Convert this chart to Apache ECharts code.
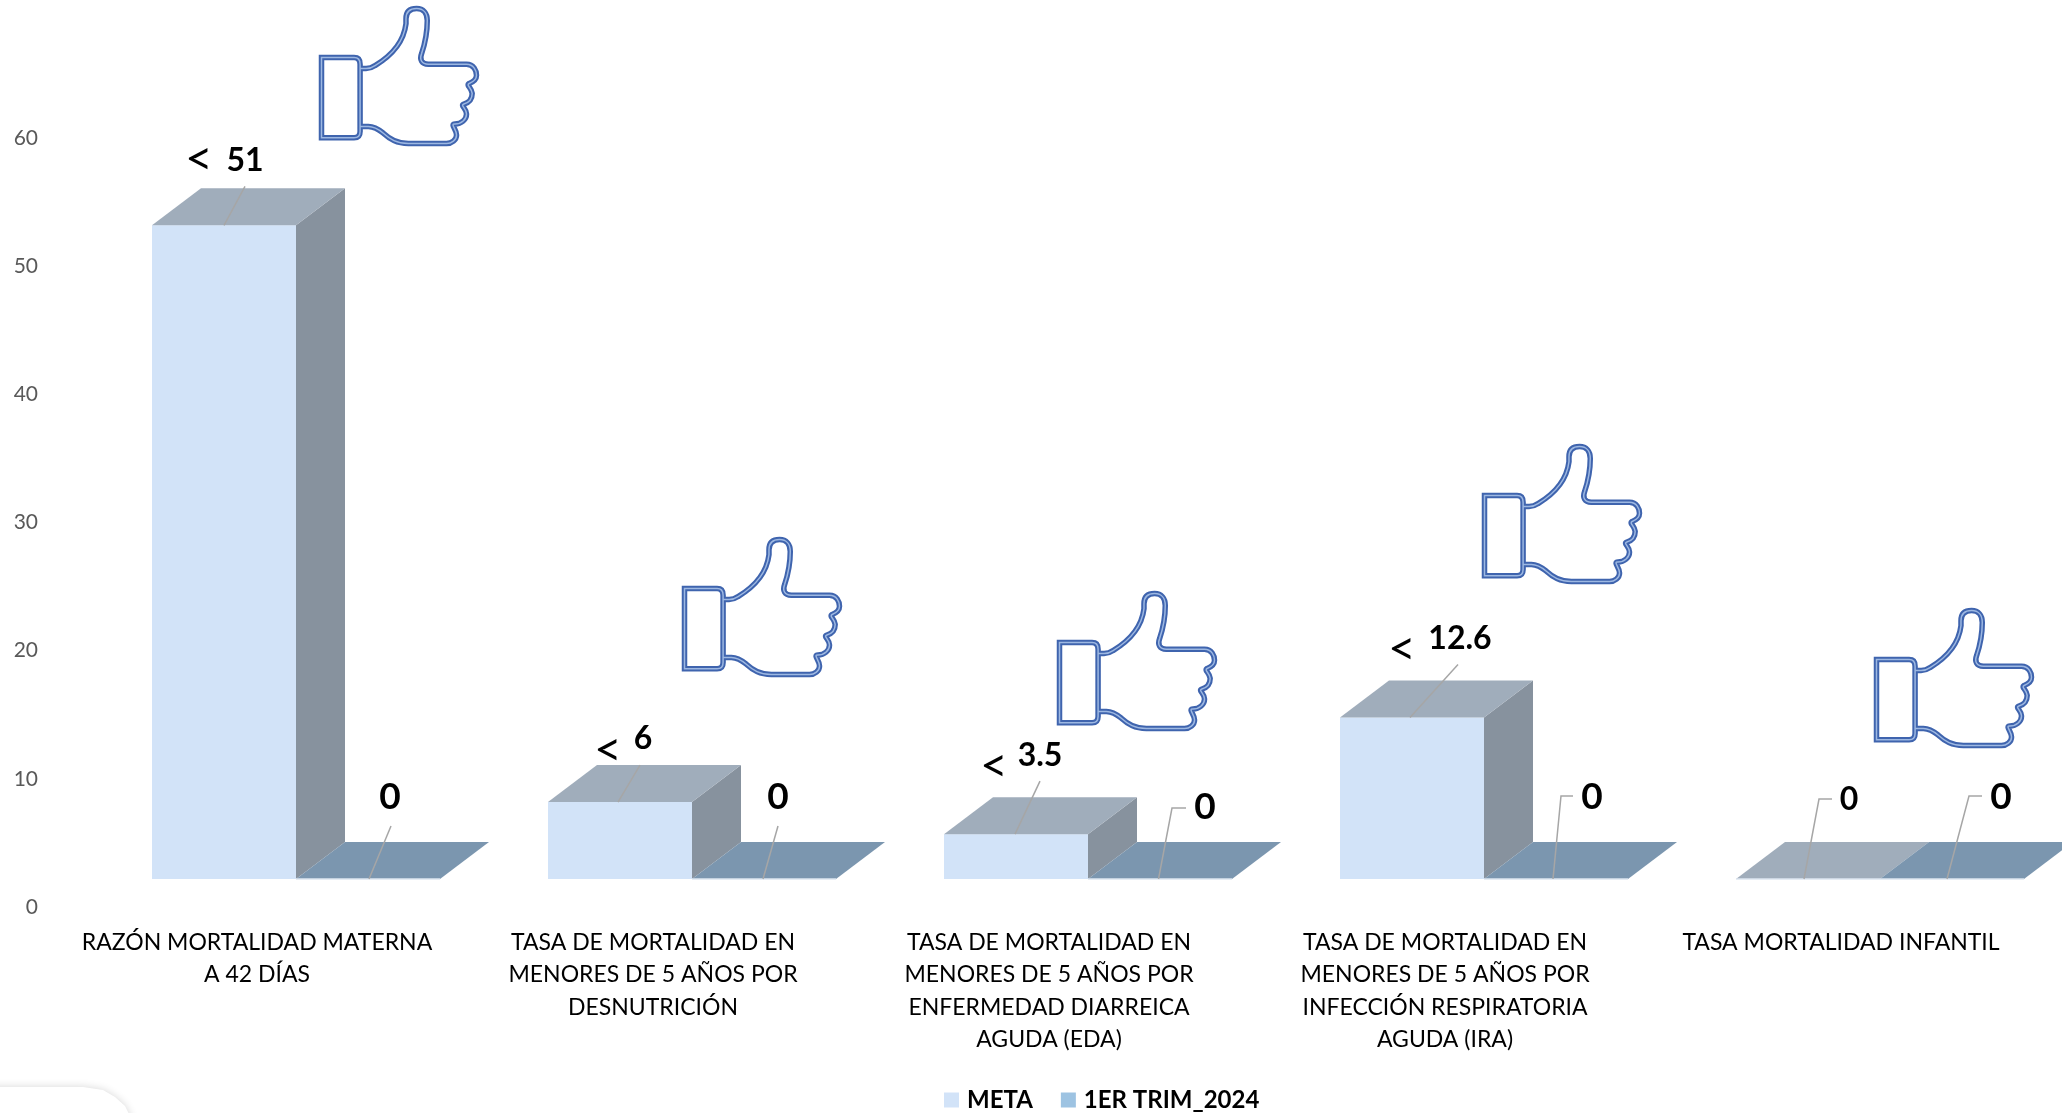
<!DOCTYPE html>
<html><head><meta charset="utf-8">
<style>html,body{margin:0;padding:0;background:#fff}#c{width:2062px;height:1113px}</style>
<script src="https://cdn.jsdelivr.net/npm/echarts@6/dist/echarts.min.js"></script>
</head><body><div id="c"></div>
<script>
const categories = [
  'RAZÓN MORTALIDAD MATERNA\nA 42 DÍAS',
  'TASA DE MORTALIDAD EN\nMENORES DE 5 AÑOS POR\nDESNUTRICIÓN',
  'TASA DE MORTALIDAD EN\nMENORES DE 5 AÑOS POR\nENFERMEDAD DIARREICA\nAGUDA (EDA)',
  'TASA DE MORTALIDAD EN\nMENORES DE 5 AÑOS POR\nINFECCIÓN RESPIRATORIA\nAGUDA (IRA)',
  'TASA MORTALIDAD INFANTIL'
];
const metaValues = [51, 6, 3.5, 12.6, 0];
const trimValues = [0, 0, 0, 0, 0];
const metaPrefix = ['<', '<', '<', '<', ''];

// layout of the hand-placed labels and leader lines (pixel offsets from the bar's top-front midpoint)
const metaLeader = [[[0,0],[21,-39]], [[-2,0],[20,-37]], [[-1,0],[24,-53]], [[-2,0],[46,-53]], [[-4,0],[11,-80],[24,-80]]];
const metaLabel  = [[21,-65,32], [23,-63,32], [24,-78,32], [48,-79,32], [41,-79,32]];
const metaPrefixAt = [[-25,-66], [-12,-52], [-22,-68], [-10,-68], null];
const trimLeader = [[[1,0],[23,-53]], [[-1,0],[14,-53]], [[-1.5,0],[12,-71],[26,-71]], [[-3,0],[5,-83],[17,-83]], [[-5,0],[17,-83],[30,-83]]];
const trimLabel  = [[22,-82,37], [14,-82,37], [45,-72,37], [36,-82,37], [49,-82,37]];
const thumbBoxes = [[319,6], [682,537], [1057,591], [1482,444], [1874,608]];

const FONT = 'Lato, Carlito, "Noto Sans", sans-serif';
const BAR_W_RATIO = 144 / 396, DEPTH_X = 49, DEPTH_Y = 37, FLOOR_UP = 28, SHIFT = 39;

const thumbCuff = 'M964,172 L1062,172 Q1080,172 1080,192 L1080,395 Q1080,414 1062,414 L964,414 Z ';
const thumbHand = 'M1082,205 L1098,205 Q1112,205 1125,196 C1165,172 1210,135 1218,70 L1218,55 C1218,32 1232,24 1250,24 C1270,24 1282,38 1282,60 C1282,100 1275,130 1265,160 C1258,178 1265,192 1285,192 L1400,192 C1422,192 1430,212 1430,225 C1430,238 1420,245 1408,250 C1398,256 1415,262 1417,280 C1417,298 1405,308 1392,312 C1380,316 1400,325 1400,342 C1400,358 1385,372 1365,372 C1350,372 1370,388 1370,405 C1370,420 1355,431 1340,431 L1225,431 C1190,431 1170,418 1150,400 C1130,384 1120,380 1105,380 L1082,380';
const thumbPath = thumbCuff + thumbHand;

function boxRenderer(slot, faces, leaders, labels, prefixes, prefixAt) {
  return function (params, api) {
    const i = api.value(0), v = api.value(1);
    const band = api.size([1, 0])[0];
    const w = band * BAR_W_RATIO;
    const cx = api.coord([i, 0])[0];
    const zeroY = api.coord([i, 0])[1] - FLOOR_UP;
    const topY = api.coord([i, v])[1] - FLOOR_UP;
    const x0 = cx - w + SHIFT + slot * w, x1 = x0 + w;
    const dx = DEPTH_X, dy = DEPTH_Y;
    const kids = [];
    const poly = (pts, fill) => kids.push({ type: 'polygon', shape: { points: pts }, style: { fill } });
    if (v > 0) {
      poly([[x0,topY],[x1,topY],[x1,zeroY],[x0,zeroY]], faces.front);
      poly([[x1,topY],[x1+dx,topY-dy],[x1+dx,zeroY-dy],[x1,zeroY]], faces.side);
    }
    poly([[x0,topY],[x1,topY],[x1+dx,topY-dy],[x0+dx,topY-dy]], faces.top);
    if (v === 0) kids.push({ type: 'line', shape: { x1: x0, y1: zeroY, x2: x1, y2: zeroY }, style: { stroke: '#DCE6F1', lineWidth: 1.5 } });
    const bx = (x0 + x1) / 2, by = topY;
    kids.push({ type: 'polyline',
      shape: { points: leaders[i].map(p => [bx + p[0], by + p[1]]) },
      style: { stroke: '#A6A6A6', lineWidth: 1.5, fill: 'none' } });
    const L = labels[i];
    kids.push({ type: 'text', style: { x: bx + L[0], y: by + L[1], text: String(v),
      fill: '#000', fontFamily: FONT, fontSize: L[2], fontWeight: 'bold', align: 'center', verticalAlign: 'middle' } });
    if (prefixes && prefixes[i]) {
      kids.push({ type: 'text', style: { x: bx + prefixAt[i][0], y: by + prefixAt[i][1], text: prefixes[i],
        fill: '#000', fontFamily: FONT, fontSize: 48, align: 'center', verticalAlign: 'middle' } });
    }
    return { type: 'group', children: kids };
  };
}

function thumbRenderer(params, api) {
  const shape = { pathData: thumbPath, x: api.value(0) + 2.5, y: api.value(1) + 2.5, width: 155, height: 135, layout: 'cover' };
  return { type: 'group', children: [
    { type: 'path', shape, style: { fill: 'none', stroke: '#3F64AE', lineWidth: 5.5 } },
    { type: 'path', shape, style: { fill: 'none', stroke: '#9DB8E2', lineWidth: 1.5 } }
  ] };
}

const chart = echarts.init(document.getElementById('c'), null, { renderer: 'canvas' });
chart.setOption({
  animation: false,
  backgroundColor: '#fff',
  grid: { left: 59, width: 1980, top: 138, bottom: 206, containLabel: false },
  xAxis: { type: 'category', data: categories, axisLine: { show: false }, axisTick: { show: false },
    axisLabel: { interval: 0, margin: 19, color: '#000', fontFamily: FONT, fontSize: 23, lineHeight: 32.5, hideOverlap: false } },
  yAxis: { type: 'value', min: 0, max: 60, interval: 10, splitLine: { show: false }, axisLine: { show: false }, axisTick: { show: false },
    axisLabel: { margin: 21, color: '#595959', fontFamily: FONT, fontSize: 21, padding: [1, 0, 0, 0] } },
  legend: { left: 944, top: 1088, padding: 0, itemWidth: 15, itemHeight: 15, itemGap: 28, icon: 'rect',
    data: ['META', '1ER TRIM_2024'],
    textStyle: { color: '#000', fontFamily: FONT, fontWeight: 'bold', fontSize: 24, padding: [0, 0, 0, 3] } },
  graphic: [
    { type: 'polygon', silent: true, shape: { points: [[-20,1087],[83,1087],[103,1090],[115,1097],[125,1106],[132,1120],[-20,1120]] },
      style: { fill: '#fff', shadowColor: 'rgba(0,0,0,0.16)', shadowBlur: 9 } }
  ],
  series: [
    { name: 'META', type: 'custom', itemStyle: { color: '#D2E3F8' }, clip: false,
      data: metaValues.map((v, i) => [i, v]), encode: { x: 0, y: 1 },
      renderItem: boxRenderer(0, { front: '#D2E3F8', side: '#87929E', top: '#A0ADBB' }, metaLeader, metaLabel, metaPrefix, metaPrefixAt) },
    { name: '1ER TRIM_2024', type: 'custom', itemStyle: { color: '#9DC3E2' }, clip: false,
      data: trimValues.map((v, i) => [i, v]), encode: { x: 0, y: 1 },
      renderItem: boxRenderer(1, { front: '#9DC3E2', side: '#6C8093', top: '#7B96AF' }, trimLeader, trimLabel) },
    { name: 'thumbs', type: 'custom', coordinateSystem: 'none', silent: true, data: thumbBoxes, renderItem: thumbRenderer }
  ]
});
</script></body></html>
